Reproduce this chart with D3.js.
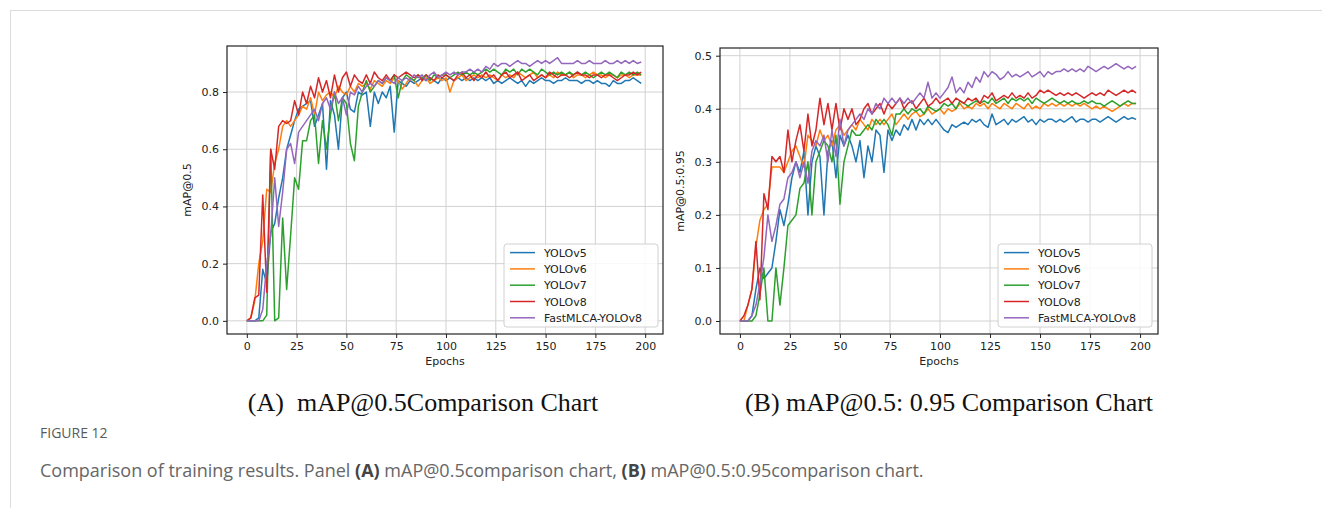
<!DOCTYPE html>
<html>
<head>
<meta charset="utf-8">
<script src="https://cdn.jsdelivr.net/npm/d3@7"></script>
<style>
  body { margin: 0; background: #fff; }
  svg { display: block; }
  .tick text { font-family: "DejaVu Sans", sans-serif; font-size: 11px; fill: #222; }
  .tick line { stroke: #222; }
</style>
</head>
<body>
<svg id="fig" width="1322" height="508"></svg>
<script>
// one value every 2 epochs, epoch 0 .. 198
const seriesNames = ["YOLOv5", "YOLOv6", "YOLOv7", "YOLOv8", "FastMLCA-YOLOv8"];
const seriesColors = ["#1f77b4", "#ff7f0e", "#2ca02c", "#d62728", "#9467bd"];
const xTicks = [0, 25, 50, 75, 100, 125, 150, 175, 200];
const yTicksA = [0, 0.2, 0.4, 0.6, 0.8];
const yTicksB = [0, 0.1, 0.2, 0.3, 0.4, 0.5];

// (A) mAP@0.5
const a_v5 = [0, 0, 0, 0.01, 0.18, 0.13, 0.31, 0.34, 0.43, 0.5,
  0.6, 0.65, 0.7, 0.74, 0.75, 0.76, 0.77, 0.68, 0.72, 0.76,
  0.53, 0.77, 0.72, 0.6, 0.78, 0.8, 0.74, 0.73, 0.8, 0.79,
  0.8, 0.68, 0.8, 0.76, 0.8, 0.78, 0.82, 0.66, 0.84, 0.83,
  0.82, 0.84, 0.83, 0.84, 0.85, 0.84, 0.85, 0.84, 0.83, 0.85,
  0.84, 0.85, 0.84, 0.85, 0.84, 0.85, 0.84, 0.85, 0.84, 0.85,
  0.84, 0.85, 0.83, 0.84, 0.83, 0.84, 0.85, 0.84, 0.83, 0.84,
  0.82, 0.84, 0.83, 0.84, 0.85, 0.84, 0.84, 0.83, 0.84, 0.84,
  0.85, 0.84, 0.84, 0.84, 0.83, 0.84, 0.84, 0.83, 0.84, 0.83,
  0.83, 0.82, 0.84, 0.83, 0.83, 0.84, 0.84, 0.85, 0.84, 0.83];
const a_v6 = [0, 0.01, 0.07, 0.2, 0.28, 0.46, 0.45, 0.55, 0.6, 0.68,
  0.7, 0.68, 0.7, 0.72, 0.75, 0.74, 0.78, 0.72, 0.8, 0.77,
  0.79, 0.8, 0.78, 0.82, 0.8, 0.79, 0.82, 0.8, 0.83, 0.82,
  0.83, 0.81, 0.84, 0.83, 0.82, 0.84, 0.83, 0.85, 0.84, 0.81,
  0.83, 0.85, 0.84, 0.82, 0.84, 0.85, 0.83, 0.84, 0.85, 0.84,
  0.85, 0.8, 0.84, 0.85, 0.86, 0.84, 0.85, 0.86, 0.85, 0.86,
  0.85, 0.86, 0.85, 0.84, 0.86, 0.85, 0.86, 0.85, 0.87, 0.86,
  0.85, 0.86, 0.87, 0.85, 0.86, 0.85, 0.86, 0.85, 0.87, 0.86,
  0.86, 0.87, 0.85, 0.86, 0.86, 0.85, 0.86, 0.87, 0.86, 0.86,
  0.85, 0.86, 0.86, 0.85, 0.86, 0.86, 0.85, 0.86, 0.86, 0.86];
const a_v7 = [0, 0, 0, 0, 0, 0.02, 0.6, 0, 0.01, 0.36,
  0.11, 0.3, 0.5, 0.46, 0.63, 0.63, 0.7, 0.72, 0.55, 0.7,
  0.6, 0.72, 0.8, 0.7, 0.78, 0.76, 0.62, 0.56, 0.75, 0.8,
  0.84, 0.8, 0.82, 0.84, 0.83, 0.85, 0.84, 0.86, 0.78, 0.84,
  0.86, 0.85, 0.84, 0.86, 0.85, 0.86, 0.84, 0.86, 0.85, 0.86,
  0.86, 0.85, 0.86, 0.87, 0.86, 0.87, 0.86, 0.87, 0.86, 0.87,
  0.88, 0.87, 0.88, 0.87, 0.86, 0.88, 0.87, 0.88, 0.86, 0.88,
  0.87, 0.88, 0.87, 0.86, 0.88, 0.87, 0.86, 0.87, 0.86, 0.87,
  0.86, 0.87, 0.86, 0.87, 0.86, 0.87, 0.86, 0.85, 0.86, 0.87,
  0.86, 0.87, 0.86, 0.85, 0.87, 0.86, 0.87, 0.86, 0.87, 0.86];
const a_v8 = [0, 0.01, 0.08, 0.09, 0.44, 0.1, 0.6, 0.53, 0.68, 0.7,
  0.69, 0.7, 0.77, 0.72, 0.8, 0.76, 0.82, 0.78, 0.85, 0.8,
  0.84, 0.78, 0.86, 0.8, 0.85, 0.87, 0.82, 0.86, 0.84, 0.83,
  0.86, 0.83, 0.87, 0.85, 0.84, 0.86, 0.84, 0.86, 0.85, 0.86,
  0.87, 0.86, 0.85, 0.86, 0.84, 0.86, 0.85, 0.84, 0.86, 0.85,
  0.86, 0.85, 0.84, 0.86, 0.87, 0.85, 0.86, 0.84, 0.86, 0.85,
  0.87, 0.85, 0.86, 0.84, 0.86, 0.87, 0.85, 0.86, 0.87, 0.84,
  0.85, 0.86, 0.84, 0.85, 0.86, 0.85, 0.87, 0.86, 0.85, 0.86,
  0.86, 0.85, 0.86, 0.87, 0.86, 0.86, 0.85, 0.86, 0.86, 0.85,
  0.86, 0.86, 0.85, 0.84, 0.85, 0.86, 0.86, 0.87, 0.86, 0.87];
const a_fast = [0, 0, 0, 0, 0.04, 0.2, 0.3, 0.5, 0.33, 0.45,
  0.6, 0.62, 0.55, 0.66, 0.68, 0.7, 0.72, 0.74, 0.7, 0.76,
  0.78, 0.74, 0.8, 0.76, 0.78, 0.72, 0.8, 0.79, 0.82, 0.8,
  0.82, 0.83, 0.82, 0.84, 0.83, 0.85, 0.84, 0.83, 0.85, 0.84,
  0.85, 0.84, 0.86, 0.85, 0.86, 0.84, 0.86, 0.87, 0.85, 0.86,
  0.87, 0.86, 0.87, 0.86, 0.87, 0.87, 0.88, 0.87, 0.88, 0.87,
  0.89, 0.88, 0.9, 0.89, 0.9, 0.9, 0.89, 0.9, 0.91, 0.9,
  0.9, 0.89, 0.9, 0.91, 0.9, 0.91, 0.9, 0.91, 0.92, 0.9,
  0.9, 0.9, 0.9, 0.91, 0.9, 0.9, 0.91, 0.9, 0.9, 0.9,
  0.91, 0.9, 0.9, 0.91, 0.9, 0.91, 0.9, 0.91, 0.9, 0.905];

// (B) mAP@0.5:0.95
const b_v5 = [0, 0, 0, 0.01, 0.06, 0.1, 0.08, 0.09, 0.1, 0.15,
  0.21, 0.18, 0.22, 0.27, 0.3, 0.28, 0.32, 0.2, 0.3, 0.33,
  0.31, 0.2, 0.32, 0.34, 0.27, 0.35, 0.33, 0.35, 0.33, 0.3,
  0.34, 0.27, 0.33, 0.3, 0.36, 0.35, 0.28, 0.36, 0.34, 0.36,
  0.35, 0.37, 0.36, 0.38, 0.36, 0.38, 0.37, 0.38, 0.37, 0.38,
  0.37, 0.36, 0.355, 0.37, 0.365, 0.37, 0.375, 0.37, 0.38, 0.375,
  0.38, 0.37, 0.365, 0.39, 0.37, 0.375, 0.38, 0.37, 0.38, 0.375,
  0.38, 0.385, 0.375, 0.38, 0.37, 0.38, 0.375, 0.38, 0.38, 0.375,
  0.38, 0.375, 0.38, 0.385, 0.375, 0.38, 0.38, 0.375, 0.38, 0.38,
  0.375, 0.38, 0.385, 0.38, 0.375, 0.38, 0.385, 0.38, 0.383, 0.38];
const b_v6 = [0, 0, 0.03, 0.06, 0.14, 0.19, 0.21, 0.22, 0.29, 0.29,
  0.29, 0.28, 0.3, 0.32, 0.33, 0.31, 0.29, 0.35, 0.34, 0.33,
  0.36, 0.34, 0.35, 0.33, 0.36, 0.37, 0.35, 0.36, 0.37, 0.36,
  0.38, 0.37, 0.36, 0.38, 0.37, 0.38, 0.37, 0.38, 0.39, 0.37,
  0.38, 0.39, 0.38, 0.39, 0.395, 0.385, 0.39, 0.4, 0.39, 0.395,
  0.4, 0.39, 0.4, 0.395, 0.4, 0.41, 0.4, 0.405, 0.4, 0.41,
  0.405, 0.41, 0.4, 0.41, 0.405, 0.4, 0.41, 0.405, 0.4, 0.41,
  0.405, 0.4, 0.41, 0.4, 0.405, 0.4, 0.41, 0.405, 0.41, 0.405,
  0.41, 0.405, 0.41, 0.405, 0.41, 0.405, 0.41, 0.405, 0.4, 0.405,
  0.4, 0.405, 0.4, 0.395, 0.4, 0.405, 0.41, 0.405, 0.41, 0.41];
const b_v7 = [0, 0, 0, 0, 0.01, 0.05, 0.1, 0, 0, 0.1,
  0.03, 0.1, 0.18, 0.19, 0.2, 0.25, 0.26, 0.3, 0.2, 0.3,
  0.32, 0.34, 0.33, 0.3, 0.35, 0.22, 0.3, 0.33, 0.36, 0.35,
  0.35, 0.36, 0.37, 0.36, 0.38, 0.37, 0.38, 0.37, 0.35, 0.39,
  0.39, 0.4, 0.39, 0.4, 0.395, 0.4, 0.39, 0.405, 0.4, 0.395,
  0.4, 0.41, 0.405, 0.41, 0.4, 0.415, 0.41, 0.405, 0.41, 0.415,
  0.41, 0.415, 0.41, 0.42, 0.41, 0.415, 0.42, 0.41, 0.42, 0.415,
  0.42, 0.415, 0.42, 0.41, 0.42, 0.415, 0.41, 0.415, 0.42, 0.415,
  0.41, 0.415, 0.41, 0.415, 0.41, 0.41, 0.415, 0.41, 0.415, 0.41,
  0.41, 0.405, 0.41, 0.415, 0.41, 0.405, 0.41, 0.415, 0.41, 0.41];
const b_v8 = [0, 0.01, 0.03, 0.06, 0.15, 0.04, 0.24, 0.21, 0.31, 0.3,
  0.31, 0.28, 0.36, 0.3, 0.34, 0.37, 0.32, 0.39, 0.33, 0.36,
  0.42, 0.37, 0.41, 0.36, 0.41, 0.36, 0.4, 0.38, 0.4, 0.37,
  0.38, 0.4, 0.41, 0.39, 0.4, 0.41, 0.39, 0.41, 0.4, 0.41,
  0.42, 0.4, 0.41, 0.415, 0.4, 0.41, 0.42, 0.405, 0.41, 0.42,
  0.41, 0.415, 0.42, 0.41, 0.42, 0.415, 0.41, 0.42, 0.415, 0.42,
  0.41, 0.425, 0.42, 0.43, 0.415, 0.42, 0.425, 0.42, 0.43, 0.42,
  0.425, 0.42, 0.43, 0.42, 0.425, 0.435, 0.43, 0.435, 0.43, 0.425,
  0.43, 0.425, 0.43, 0.425, 0.43, 0.425, 0.42, 0.425, 0.43, 0.425,
  0.43, 0.425, 0.435, 0.43, 0.425, 0.43, 0.435, 0.43, 0.435, 0.43];
const b_fast = [0, 0, 0, 0.01, 0.03, 0.07, 0.12, 0.2, 0.15, 0.18,
  0.22, 0.23, 0.27, 0.28, 0.3, 0.27, 0.3, 0.26, 0.32, 0.34,
  0.33, 0.35, 0.3, 0.36, 0.31, 0.38, 0.33, 0.36, 0.37, 0.38,
  0.39, 0.38, 0.4, 0.39, 0.41, 0.4, 0.42, 0.41, 0.42, 0.41,
  0.42, 0.41, 0.42, 0.41, 0.42, 0.43, 0.42, 0.45, 0.42, 0.43,
  0.42, 0.43, 0.44, 0.46, 0.43, 0.44, 0.43, 0.45, 0.44, 0.46,
  0.45, 0.47, 0.46, 0.47, 0.465, 0.455, 0.46, 0.47, 0.46, 0.465,
  0.46, 0.465, 0.47, 0.46, 0.465, 0.47, 0.46, 0.47, 0.465, 0.47,
  0.47, 0.475, 0.47, 0.475, 0.47, 0.475, 0.47, 0.48, 0.475, 0.47,
  0.475, 0.48, 0.475, 0.48, 0.485, 0.48, 0.475, 0.48, 0.475, 0.48];

const svg = d3.select("#fig");

// page frame (thin grey lines top and left)
svg.append("line").attr("x1", 10).attr("x2", 1322).attr("y1", 10.5).attr("y2", 10.5).attr("stroke", "#dcdcdc");
svg.append("line").attr("x1", 10.5).attr("x2", 10.5).attr("y1", 10).attr("y2", 508).attr("stroke", "#dcdcdc");

drawPanel({
  left: 227, right: 663, top: 46, bottom: 334,
  yDomain: [-0.046, 0.961], yTicks: yTicksA,
  data: [a_v5, a_v6, a_v7, a_v8, a_fast],
  yLabel: "mAP@0.5", yLabelX: 191,
  legendX: 504,
  title: "(A)  mAP@0.5Comparison Chart", titleX: 423
});
drawPanel({
  left: 720, right: 1158, top: 48, bottom: 334,
  yDomain: [-0.0245, 0.5145], yTicks: yTicksB,
  data: [b_v5, b_v6, b_v7, b_v8, b_fast],
  yLabel: "mAP@0.5:0.95", yLabelX: 684,
  legendX: 998,
  title: "(B) mAP@0.5: 0.95 Comparison Chart", titleX: 949
});

// --- caption ---
svg.append("text").attr("x", 40).attr("y", 438)
  .style("font-family", "'Open Sans', sans-serif").style("font-size", "14px")
  .style("fill", "#5a5a5a").text("FIGURE 12");

const cap = svg.append("text").attr("x", 40).attr("y", 477)
  .style("font-family", "'Open Sans', sans-serif").style("font-size", "18px")
  .style("fill", "#666");
cap.append("tspan").text("Comparison of training results. Panel ");
cap.append("tspan").style("font-weight", "bold").style("fill", "#444").text("(A)");
cap.append("tspan").text(" mAP@0.5comparison chart, ");
cap.append("tspan").style("font-weight", "bold").style("fill", "#444").text("(B)");
cap.append("tspan").text(" mAP@0.5:0.95comparison chart.");

function drawPanel(p) {
  const x = d3.scaleLinear().domain([-9.95, 208.95]).range([p.left, p.right]);
  const y = d3.scaleLinear().domain(p.yDomain).range([p.bottom, p.top]);
  const g = svg.append("g");

  // grid
  g.append("g").selectAll("line").data(xTicks).join("line")
    .attr("x1", d => x(d)).attr("x2", d => x(d))
    .attr("y1", p.top).attr("y2", p.bottom)
    .attr("stroke", "#d2d2d2").attr("stroke-width", 1);
  g.append("g").selectAll("line").data(p.yTicks).join("line")
    .attr("y1", d => y(d)).attr("y2", d => y(d))
    .attr("x1", p.left).attr("x2", p.right)
    .attr("stroke", "#d2d2d2").attr("stroke-width", 1);

  // series lines
  const line = d3.line().x((d, i) => x(i * 2)).y(d => y(d));
  p.data.forEach((vals, k) => {
    g.append("path").datum(vals)
      .attr("d", line)
      .attr("fill", "none")
      .attr("stroke", seriesColors[k])
      .attr("stroke-width", 1.5)
      .attr("stroke-linejoin", "round");
  });

  // axes
  const xAxis = g.append("g").attr("transform", `translate(0,${p.bottom})`)
    .call(d3.axisBottom(x).tickValues(xTicks).tickSize(4).tickPadding(4).tickFormat(d3.format("d")));
  xAxis.select(".domain").remove();
  const yAxis = g.append("g").attr("transform", `translate(${p.left},0)`)
    .call(d3.axisLeft(y).tickValues(p.yTicks).tickSize(4).tickPadding(4).tickFormat(d3.format(".1f")));
  yAxis.select(".domain").remove();

  g.append("rect")
    .attr("x", p.left).attr("y", p.top)
    .attr("width", p.right - p.left).attr("height", p.bottom - p.top)
    .attr("fill", "none").attr("stroke", "#222").attr("stroke-width", 1.2);

  // axis labels
  g.append("text")
    .attr("x", (p.left + p.right) / 2).attr("y", 365)
    .attr("text-anchor", "middle")
    .style("font-family", "'DejaVu Sans', sans-serif").style("font-size", "11px").style("fill", "#222")
    .text("Epochs");
  g.append("text")
    .attr("transform", `translate(${p.yLabelX},${(p.top + p.bottom) / 2}) rotate(-90)`)
    .attr("text-anchor", "middle")
    .style("font-family", "'DejaVu Sans', sans-serif").style("font-size", "11px").style("fill", "#222")
    .text(p.yLabel);

  // legend
  const lg = g.append("g");
  lg.append("rect")
    .attr("x", p.legendX).attr("y", 244)
    .attr("width", 154).attr("height", 83).attr("rx", 3)
    .attr("fill", "#fff").attr("fill-opacity", 0.85)
    .attr("stroke", "#d0d0d0");
  seriesNames.forEach((name, k) => {
    const cy = 252.6 + k * 16.3;
    lg.append("line")
      .attr("x1", p.legendX + 6).attr("x2", p.legendX + 31)
      .attr("y1", cy).attr("y2", cy)
      .attr("stroke", seriesColors[k]).attr("stroke-width", 1.5);
    lg.append("text")
      .attr("x", p.legendX + 40).attr("y", cy + 4)
      .style("font-family", "'DejaVu Sans', sans-serif").style("font-size", "11px").style("fill", "#222")
      .text(name);
  });

  // panel title under the chart
  svg.append("text")
    .attr("x", p.titleX).attr("y", 411)
    .attr("text-anchor", "middle")
    .style("white-space", "pre")
    .style("font-family", "'Liberation Serif', 'Times New Roman', serif")
    .style("font-size", "26px").style("fill", "#111")
    .text(p.title);
}
</script>
</body>
</html>
